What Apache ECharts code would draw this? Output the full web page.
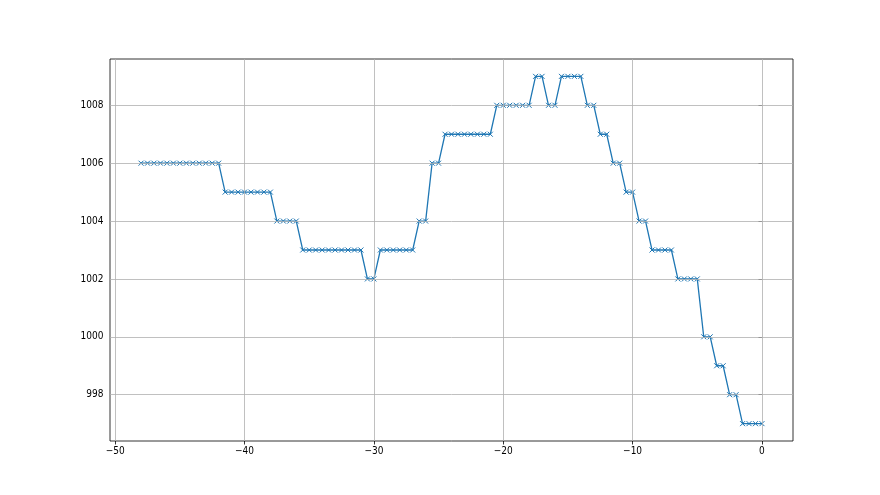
<!DOCTYPE html>
<html><head><meta charset="utf-8">
<script src="https://cdn.jsdelivr.net/npm/echarts@6/dist/echarts.min.js"></script>
<style>html,body{margin:0;padding:0;background:#fff}#c{width:880px;height:495px}</style>
</head><body><div id="c"></div>
<script>
// x positions (hours), step 0.5 from -48 to 0
const xValues = [];
for (let i = 0; i <= 96; i++) xValues.push(-48 + i * 0.5);
// pressure values
const pressure = [
  1006,1006,1006,1006,1006,1006,1006,1006,1006,1006,1006,1006,1006,
  1005,1005,1005,1005,1005,1005,1005,1005,
  1004,1004,1004,1004,
  1003,1003,1003,1003,1003,1003,1003,1003,1003,1003,
  1002,1002,
  1003,1003,1003,1003,1003,1003,
  1004,1004,
  1006,1006,
  1007,1007,1007,1007,1007,1007,1007,1007,
  1008,1008,1008,1008,1008,1008,
  1009,1009,
  1008,1008,
  1009,1009,1009,1009,
  1008,1008,
  1007,1007,
  1006,1006,
  1005,1005,
  1004,1004,
  1003,1003,1003,1003,
  1002,1002,1002,1002,
  1000,1000,
  999,999,
  998,998,
  997,997,997,997
];
const xTicks = [-50, -40, -30, -20, -10, 0];
const yTicks = [998, 1000, 1002, 1004, 1006, 1008];

const xmin0 = Math.min(...xValues), xmax0 = Math.max(...xValues);
const ymin0 = Math.min(...pressure), ymax0 = Math.max(...pressure);
const xm = (xmax0 - xmin0) * 0.05, ym = (ymax0 - ymin0) * 0.05;

const minus = v => String(v).replace('-', '\u2212');
const font = {fontFamily: '"Liberation Sans Narrow", "DejaVu Sans Condensed", "DejaVu Sans"', fontSize: 10, color: '#000'};

const chart = echarts.init(document.getElementById('c'), null, {renderer: 'canvas'});
chart.setOption({
  animation: false,
  backgroundColor: '#fff',
  grid: {left: 110, right: 87, top: 59, bottom: 54, containLabel: false,
         show: true, borderColor: '#000', borderWidth: 0.8, backgroundColor: 'transparent'},
  xAxis: {
    type: 'value', min: xmin0 - xm, max: xmax0 + xm,
    axisLine: {show: false},
    axisTick: {show: true, customValues: xTicks, length: 3.5, lineStyle: {color: '#000', width: 0.8}},
    axisLabel: {customValues: xTicks, formatter: minus, margin: 5, ...font},
    splitLine: {show: false}
  },
  yAxis: {
    type: 'value', min: ymin0 - ym, max: ymax0 + ym,
    axisLine: {show: false},
    axisTick: {show: true, customValues: yTicks, length: 3.5, lineStyle: {color: '#000', width: 0.8}},
    axisLabel: {customValues: yTicks, formatter: minus, margin: 6.5, ...font},
    splitLine: {show: false}
  },
  series: [
    {
      type: 'line', data: [], z: 1, silent: true,
      markLine: {
        silent: true, symbol: 'none', label: {show: false},
        lineStyle: {color: '#b0b0b0', width: 0.8, type: 'solid'},
        data: xTicks.map(v => ({xAxis: v})).concat(yTicks.map(v => ({yAxis: v})))
      }
    },
    {
      type: 'line', z: 3,
      data: xValues.map((x, i) => [x, pressure[i]]),
      showSymbol: true, showAllSymbol: true,
      symbol: 'path://M0,0L10,10M10,0L0,10', symbolSize: 5,
      lineStyle: {color: '#1f77b4', width: 1.3},
      itemStyle: {color: '#1f77b4', borderColor: '#1f77b4', borderWidth: 1},
      emphasis: {disabled: true}
    }
  ]
});
</script></body></html>
